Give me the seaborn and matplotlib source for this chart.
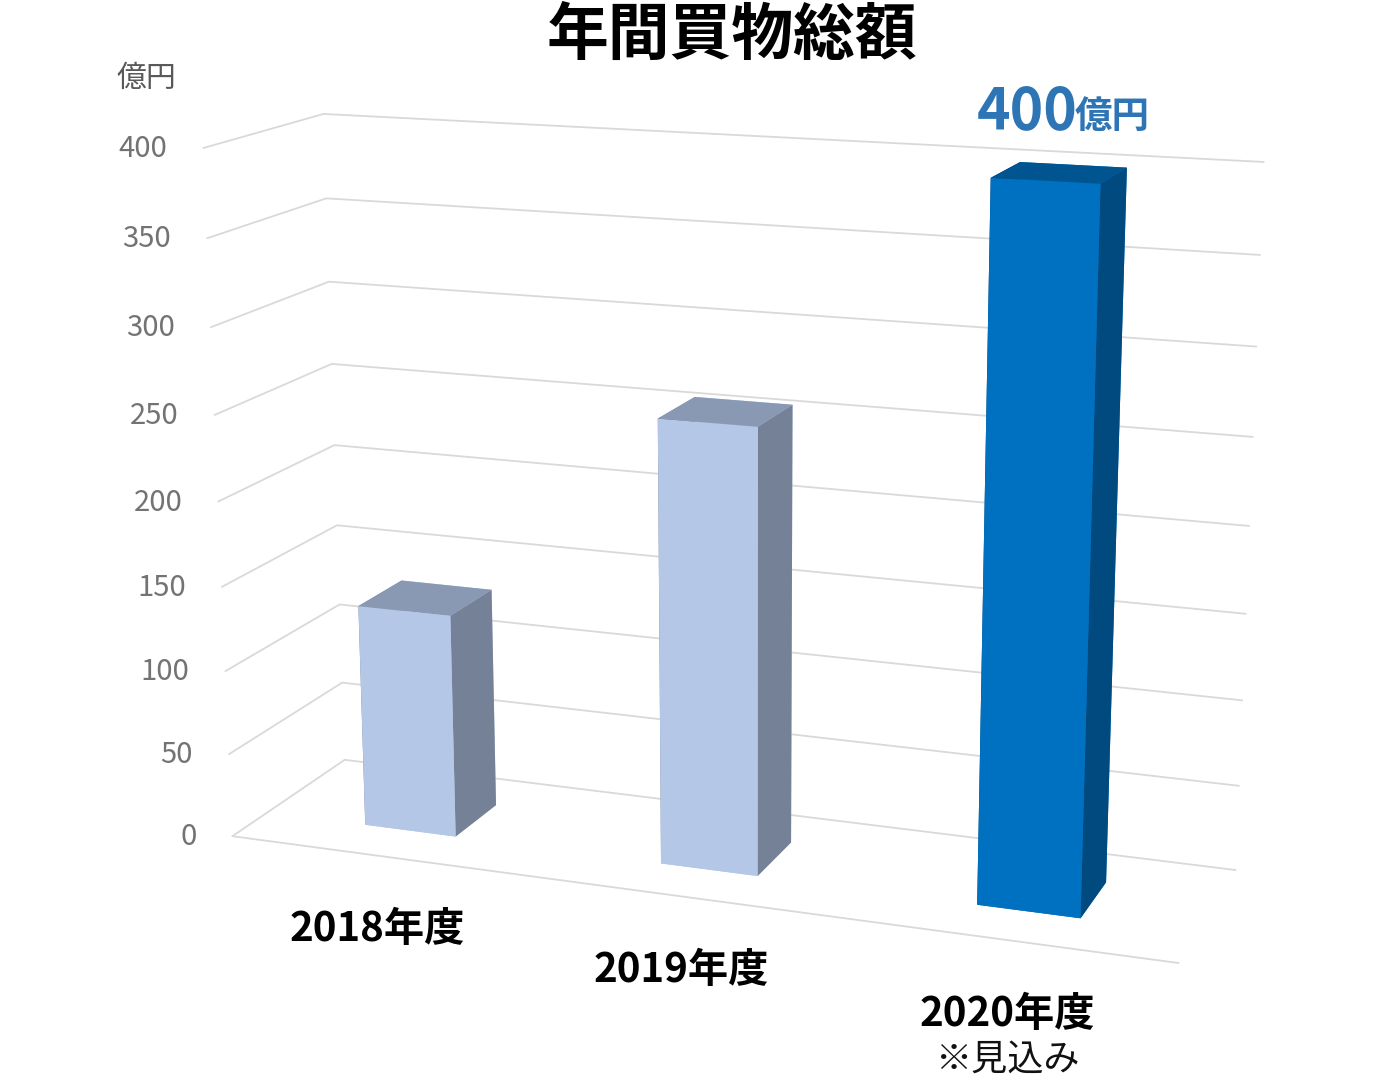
import matplotlib
matplotlib.use('Agg')
import matplotlib.pyplot as plt
import seaborn as sns
from mpl_toolkits.mplot3d import proj3d

# chart data
years = ['2018年度', '2019年度', '2020年度']
totals = [133, 258, 400]
value_ticks = [0, 50, 100, 150, 200, 250, 300, 350, 400]
front_colors = ['#B4C7E7', '#B4C7E7', '#0070C0']
top_colors = ['#8A99B3', '#8A99B3', '#005591']
side_colors = ['#758196', '#758196', '#004A7F']

sns.set_theme(style='white')
plt.rcParams['font.family'] = ['Noto Sans CJK JP', 'DejaVu Sans']

fig = plt.figure(figsize=(14, 10.8), dpi=100)
ax = fig.add_subplot(projection='3d', computed_zorder=False)

# camera fitted against the box corners of the picture
size = 1225.34
ax.set_position([(709.39 - size / 2) / 1400, (549.89 - size / 2) / 1080, size / 1400, size / 1080])
ax.view_init(14.73, -69.72, 0.11)
ax.set_proj_type('persp', focal_length=0.4992)
ax.set_box_aspect((1.3906, 0.3602, 1))
ax.set_xlim(0, 3)
ax.set_ylim(0, 1)
ax.set_zlim(0, 400)
ax.set_axis_off()
ax.patch.set_alpha(0)

bar_w = 0.3127
bar_d = 0.3957

def label(text, x, y, z, dx, dy, **kw):
    px, py, _ = proj3d.proj_transform(x, y, z, ax.get_proj())
    ax.annotate(text, (px, py), xytext=(dx, dy), textcoords='offset pixels',
                va='center', annotation_clip=False, **kw)

# grid on the back and left walls
for v in value_ticks:
    ax.plot([0, 0, 3], [0, 1, 1], [v, v, v], color='#D9D9D9', lw=1.3, zorder=1)
    label(str(v), 0, 0, v, -36, -1, ha='right', fontsize=21, color='#737373')
ax.plot([0, 3], [0, 0], [0, 0], color='#D9D9D9', lw=1.3, zorder=1)

# bars, faces are bottom, top, front, back, left, right
for i, total in enumerate(totals):
    faces = [front_colors[i], top_colors[i], front_colors[i], front_colors[i], side_colors[i], side_colors[i]]
    ax.bar3d(i + 0.5 - bar_w / 2, 0.5 - bar_d / 2, 0, bar_w, bar_d, total,
             color=faces, shade=False, edgecolor='none', zorder=3)
    label(years[i], i + 0.5, 0, 0, 0, -74, ha='center', fontsize=29, fontweight='bold', color='black')

label('※見込み', 2.5, 0, 0, 0, -120, ha='center', fontsize=26, color='#111111')
label(str(totals[2]), 2.5, 0.7, totals[2], -46, 53, ha='center', fontsize=41, fontweight='bold', color='#2E75B6')
label('億円', 2.5, 0.7, totals[2], 39, 48, ha='center', fontsize=27, fontweight='bold', color='#2E75B6')

fig.text(732 / 1400, 1 - 35 / 1080, '年間買物総額', ha='center', va='center', fontsize=44.5, fontweight='bold', color='black')
fig.text(146 / 1400, 1 - 78 / 1080, '億円', ha='center', va='center', fontsize=21.5, color='#595959')

fig.savefig('out.png', dpi=100, facecolor='white')
